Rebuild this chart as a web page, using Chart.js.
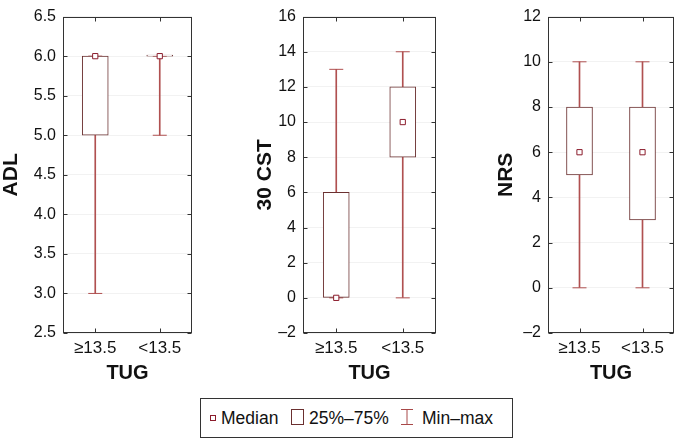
<!DOCTYPE html>
<html>
<head>
<meta charset="utf-8">
<script src="https://cdn.jsdelivr.net/npm/chart.js@4"></script>
<style>
  body { margin: 0; background: #fff; font-family: "Liberation Sans", Arial, sans-serif; }
  #wrap { position: relative; width: 682px; height: 439px; overflow: hidden; }
  .panel { position: absolute; top: 0; }
  #legend { position: absolute; left: 200px; top: 398px; width: 311px; height: 38px; border: 1px solid #333; color: #111; font-size: 17.5px; }
  #legend span.txt { position: absolute; top: 9px; line-height: 20px; }
</style>
</head>
<body>
<div id="wrap">
  <canvas id="adlChart" class="panel" width="200" height="395" style="left:0px"></canvas>
  <canvas id="cstChart" class="panel" width="194" height="395" style="left:250px"></canvas>
  <canvas id="nrsChart" class="panel" width="192" height="395" style="left:490px"></canvas>
  <div id="legend">
    <span style="position:absolute;left:9px;top:16px;width:4px;height:4px;border:1px solid #8b1c2c"></span>
    <span class="txt" style="left:20px">Median</span>
    <span style="position:absolute;left:90px;top:10px;width:11px;height:14px;border:1px solid #6b3030"></span>
    <span class="txt" style="left:108px">25%–75%</span>
    <svg style="position:absolute;left:199px;top:10px" width="14" height="16">
      <path d="M1 0.5H13M7 0.5V15.5M1 15.5H13" stroke="#a84848" stroke-width="1" fill="none"/>
    </svg>
    <span class="txt" style="left:221px">Min–max</span>
  </div>
</div>
<script>
// groups on the x axis
const categories = ["≥13.5", "<13.5"];

// ADL
const adlMin = [3, 5];
const adlQ1 = [5, 6];
const adlMedian = [6, 6];
const adlQ3 = [6, 6];
const adlMax = [6, 6];

// 30 CST
const cstMin = [0, 0];
const cstQ1 = [0, 8];
const cstMedian = [0, 10];
const cstQ3 = [6, 12];
const cstMax = [13, 14];

// NRS
const nrsMin = [0, 0];
const nrsQ1 = [5, 3];
const nrsMedian = [6, 6];
const nrsQ3 = [8, 8];
const nrsMax = [10, 10];

const whiskerColor = "#b05050";
const boxColor = "#6b3030";
const medianColor = "#8b1c2c";
const fontFamily = '"Liberation Sans", Arial, sans-serif';

// frame round the plot area plus short inward tick marks
const framePlugin = {
  id: "frame",
  afterDraw(chart) {
    const { ctx, chartArea } = chart;
    const x = chart.scales.x;
    const y = chart.scales.y;
    const l = Math.round(chartArea.left) + 0.5;
    const r = Math.round(chartArea.right) - 0.5;
    const t = Math.round(chartArea.top) + 0.5;
    const b = Math.round(chartArea.bottom) - 0.5;
    ctx.save();
    ctx.strokeStyle = "#333";
    ctx.lineWidth = 1;
    ctx.strokeRect(l, t, r - l, b - t);
    ctx.beginPath();
    y.ticks.forEach((tick, i) => {
      const py = Math.round(y.getPixelForTick(i)) + 0.5;
      ctx.moveTo(l, py);
      ctx.lineTo(l + 4, py);
      ctx.moveTo(r, py);
      ctx.lineTo(r - 4, py);
    });
    x.ticks.forEach((tick, i) => {
      const px = Math.round(x.getPixelForTick(i)) + 0.5;
      ctx.moveTo(px, t);
      ctx.lineTo(px, t + 4);
      ctx.moveTo(px, b);
      ctx.lineTo(px, b - 4);
    });
    ctx.stroke();
    ctx.restore();
  },
};

function formatTick(value, decimals) {
  const s = Math.abs(value).toFixed(decimals);
  return value < 0 ? "–" + s : s;
}

function makeBoxChart(canvasId, title, stats, axis) {
  const pairs = (a, b) => categories.map((c, i) => [a[i], b[i]]);
  const points = (arr) => categories.map((c, i) => ({ x: c, y: arr[i] }));

  new Chart(document.getElementById(canvasId), {
    data: {
      labels: categories,
      datasets: [
        {
          type: "bar",
          label: "Min–max",
          data: pairs(stats.min, stats.max),
          backgroundColor: whiskerColor,
          barThickness: 1,
          grouped: false,
          order: 3,
        },
        {
          type: "line",
          label: "caps",
          data: points(stats.min).concat(points(stats.max)),
          showLine: false,
          pointStyle: "line",
          pointRadius: 7,
          borderColor: whiskerColor,
          borderWidth: 1,
          order: 2,
        },
        {
          type: "bar",
          label: "25%–75%",
          data: pairs(stats.q1, stats.q3),
          backgroundColor: "#ffffff",
          borderColor: boxColor,
          borderWidth: 1,
          borderSkipped: false,
          minBarLength: 1,
          barThickness: 26,
          grouped: false,
          order: 1,
        },
        {
          type: "line",
          label: "Median",
          data: points(stats.median),
          showLine: false,
          pointStyle: "rect",
          pointRadius: 3.7,
          backgroundColor: "#ffffff",
          borderColor: medianColor,
          borderWidth: 1,
          order: 0,
        },
      ],
    },
    options: {
      responsive: false,
      animation: false,
      events: [],
      layout: { padding: { left: axis.padLeft, right: axis.padRight, top: 8, bottom: 0 } },
      plugins: { legend: { display: false }, tooltip: { enabled: false } },
      scales: {
        x: {
          type: "category",
          offset: true,
          grid: { display: false, drawTicks: false },
          border: { display: false },
          ticks: { color: "#111", padding: 5, font: { family: fontFamily, size: 17 } },
          title: {
            display: true,
            text: "TUG",
            color: "#111",
            font: { family: fontFamily, size: 20, weight: "bold", lineHeight: 1 },
            padding: { top: 0, bottom: 12 },
          },
          afterFit(scale) {
            scale.height = 62;
          },
        },
        y: {
          min: axis.min,
          max: axis.max,
          grid: { color: "#f2f2f2", drawTicks: false },
          border: { display: false },
          ticks: {
            stepSize: axis.step,
            color: "#111",
            padding: 7,
            font: { family: fontFamily, size: 16 },
            callback: (v) => formatTick(v, axis.decimals),
          },
          title: {
            display: true,
            text: title,
            color: "#111",
            font: { family: fontFamily, size: 21, weight: "bold", lineHeight: 1 },
            padding: { top: 0, bottom: 0 },
          },
          afterFit(scale) {
            scale.width = axis.width;
          },
        },
      },
    },
    plugins: [framePlugin],
  });
}

makeBoxChart("adlChart", "ADL",
  { min: adlMin, q1: adlQ1, median: adlMedian, q3: adlQ3, max: adlMax },
  { min: 2.5, max: 6.5, step: 0.5, decimals: 1, padLeft: 1, padRight: 8, width: 62 });

makeBoxChart("cstChart", "30 CST",
  { min: cstMin, q1: cstQ1, median: cstMedian, q3: cstQ3, max: cstMax },
  { min: -2, max: 16, step: 2, decimals: 0, padLeft: 5, padRight: 8, width: 48 });

makeBoxChart("nrsChart", "NRS",
  { min: nrsMin, q1: nrsQ1, median: nrsMedian, q3: nrsQ3, max: nrsMax },
  { min: -2, max: 12, step: 2, decimals: 0, padLeft: 6, padRight: 2, width: 52 });
</script>
</body>
</html>
